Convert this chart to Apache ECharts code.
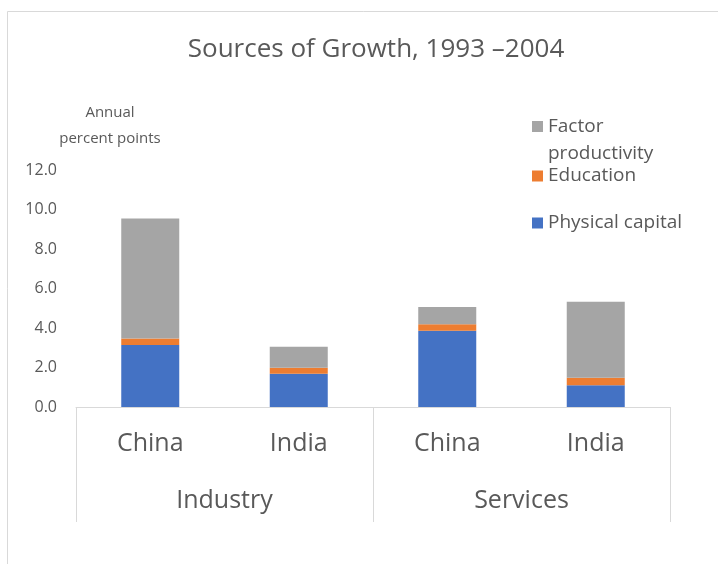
<!DOCTYPE html>
<html><head><meta charset="utf-8">
<script src="https://cdn.jsdelivr.net/npm/echarts@6/dist/echarts.min.js"></script>
<style>html,body{margin:0;padding:0;background:#fff}#c{width:718px;height:564px}</style>
</head><body><div id="c"></div>
<script>
const countries = ['China', 'India', 'China', 'India'];
const sectors = ['Industry', 'Services'];
const physicalCapital = [3.14, 1.68, 3.86, 1.10];
const education = [0.33, 0.31, 0.33, 0.38];
const factorProductivity = [6.08, 1.06, 0.87, 3.85];
const yTicks = { min: 0, max: 12, interval: 2 };

const FONT = 'Open Sans';
const TXT = '#595959';
const chart = echarts.init(document.getElementById('c'));
chart.setOption({
  backgroundColor: '#fff',
  animation: false,
  textStyle: { fontFamily: FONT },
  title: {
    text: 'Sources of Growth, 1993 \u20132004',
    left: 371, top: 32, textAlign: 'center',
    textStyle: { fontFamily: FONT, fontSize: 26, fontWeight: 'normal', color: TXT }
  },
  graphic: [{
    type: 'rect', silent: true,
    shape: { x: 7.5, y: 11.5, width: 720, height: 560 },
    style: { fill: 'none', stroke: '#d9d9d9', lineWidth: 1 }
  }],
  legend: [{
    data: ['Factor productivity'],
    left: 527, top: 108, itemWidth: 11, itemHeight: 38, itemGap: 0,
    icon: 'path://M0 0H11V11H0Z M0 38H0.01V38Z',
    formatter: () => 'Factor\nproductivity',
    textStyle: { fontFamily: FONT, fontSize: 19, color: TXT, lineHeight: 27 }
  }, {
    data: ['Education', 'Physical capital'],
    orient: 'vertical', left: 527, top: 160, icon: 'rect', itemWidth: 11, itemHeight: 11, itemGap: 25,
    textStyle: { fontFamily: FONT, fontSize: 19, color: TXT, lineHeight: 22 }
  }],
  grid: { left: 76, right: 48, top: 170, bottom: 157, containLabel: false, outerBoundsMode: 'none' },
  xAxis: [{
    type: 'category', data: countries, position: 'bottom',
    axisLine: { show: false }, axisTick: { show: false },
    axisLabel: { fontFamily: FONT, fontSize: 25, color: TXT, margin: 24 }
  }, {
    type: 'category', data: sectors, position: 'bottom',
    axisLine: { show: true, lineStyle: { color: '#d9d9d9' } },
    axisTick: { show: true, length: 115, lineStyle: { color: '#d9d9d9' } },
    axisLabel: { fontFamily: FONT, fontSize: 25, color: TXT, margin: 81 }
  }],
  yAxis: {
    type: 'value', min: yTicks.min, max: yTicks.max, interval: yTicks.interval,
    name: 'Annual\npercent points', nameLocation: 'end', nameGap: 18,
    nameTextStyle: { fontFamily: FONT, fontSize: 15, color: TXT, align: 'center', lineHeight: 26, padding: [0, 0, 0, 68] },
    axisLine: { show: false }, axisTick: { show: false }, splitLine: { show: false },
    axisLabel: { fontFamily: FONT, fontSize: 16, color: TXT, margin: 19, formatter: v => v.toFixed(1) }
  },
  series: [
    { name: 'Physical capital', type: 'bar', stack: 's', data: physicalCapital, barWidth: 58, itemStyle: { color: '#4472C4' } },
    { name: 'Education', type: 'bar', stack: 's', data: education, itemStyle: { color: '#ED7D31' } },
    { name: 'Factor productivity', type: 'bar', stack: 's', data: factorProductivity, itemStyle: { color: '#A5A5A5' } }
  ]
});
</script></body></html>
